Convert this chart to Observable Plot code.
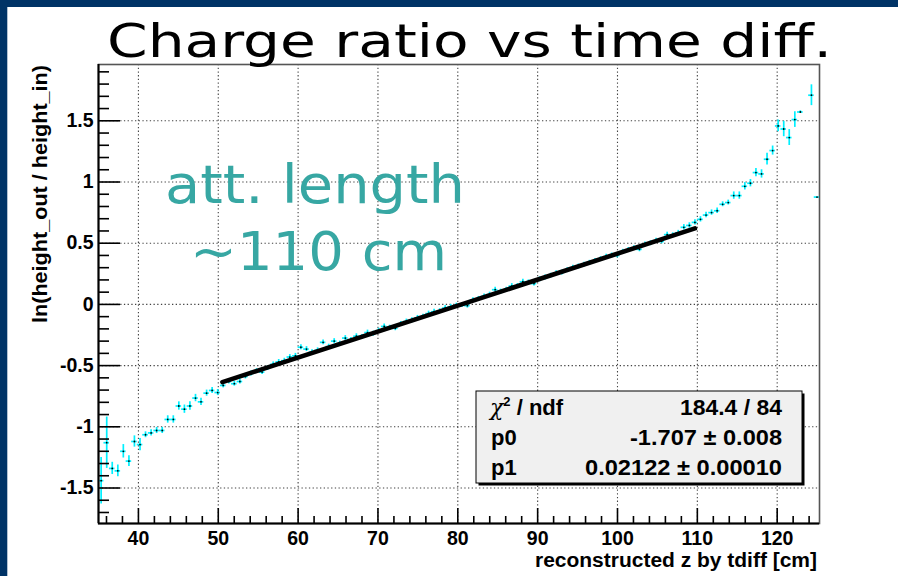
<!DOCTYPE html>
<html><head><meta charset="utf-8">
<script src="https://cdn.jsdelivr.net/npm/d3@7"></script>
<script src="https://cdn.jsdelivr.net/npm/@observablehq/plot@0.6"></script>
<style>
body{margin:0;background:#fff;width:898px;height:576px;overflow:hidden;position:relative;font-family:"Liberation Sans",Arial,sans-serif}
#chart{position:absolute;left:0;top:0}
#overlay{position:absolute;left:0;top:0;pointer-events:none}
</style></head><body>
<div id="chart"></div>
<svg id="overlay" width="898" height="576"></svg>
<script>
// ---- data ----
const binCenters = [35.33,36.03,36.72,37.42,38.11,38.81,39.50,40.20,40.89,41.59,
42.28,42.98,43.67,44.37,45.06,45.76,46.45,47.15,47.84,48.54,
49.23,49.93,50.62,51.32,52.01,52.71,53.40,54.10,54.79,55.49,
56.18,56.88,57.57,58.27,58.96,59.66,60.35,61.05,61.74,62.44,
63.13,63.83,64.52,65.22,65.91,66.61,67.30,68.00,68.69,69.39,
70.08,70.78,71.47,72.17,72.86,73.56,74.25,74.95,75.64,76.34,
77.03,77.73,78.42,79.12,79.81,80.51,81.20,81.90,82.59,83.29,
83.98,84.68,85.37,86.07,86.76,87.46,88.15,88.85,89.54,90.24,
90.93,91.63,92.32,93.02,93.71,94.41,95.10,95.80,96.49,97.19,
97.88,98.58,99.27,99.97,100.66,101.36,102.05,102.75,103.44,104.14,
104.83,105.53,106.22,106.92,107.61,108.31,109.00,109.70,110.39,111.09,
111.78,112.48,113.17,113.87,114.56,115.26,115.95,116.65,117.34,118.04,
118.73,119.43,120.12,120.82,121.51,122.21,122.90,123.60,124.29,124.99];
const ratio = [-1.44,-1.13,-1.34,-1.36,-1.20,-1.28,-1.12,-1.145,-1.065,-1.05,
-1.03,-1.03,-0.94,-0.94,-0.83,-0.856,-0.83,-0.765,-0.796,-0.725,
-0.703,-0.72,-0.662,-0.63,-0.648,-0.63,-0.589,-0.565,-0.545,-0.553,
-0.52,-0.49,-0.47,-0.46,-0.43,-0.42,-0.35,-0.365,-0.39,-0.375,
-0.31,-0.345,-0.30,-0.32,-0.275,-0.29,-0.26,-0.265,-0.23,-0.24,
-0.215,-0.18,-0.19,-0.195,-0.16,-0.14,-0.13,-0.11,-0.10,-0.075,
-0.06,-0.055,-0.03,-0.02,-0.01,-0.005,-0.01,0.035,0.045,0.065,
0.08,0.12,0.105,0.12,0.15,0.15,0.185,0.18,0.17,0.205,
0.22,0.235,0.255,0.26,0.28,0.30,0.31,0.325,0.34,0.355,
0.37,0.39,0.40,0.40,0.43,0.445,0.46,0.45,0.49,0.50,
0.52,0.515,0.57,0.565,0.585,0.63,0.645,0.67,0.695,0.73,
0.75,0.765,0.818,0.832,0.889,0.889,0.965,0.99,1.077,1.066,
1.186,1.257,1.458,1.433,1.363,1.51,1.572,null,1.709,0.877];
const ratioErr = [0.19,0.21,0.05,0.048,0.055,0.044,0.046,0.05,0.024,0.025,
0.025,0.025,0.03,0.03,0.034,0.034,0.034,0.03,0.03,0.025,
0.025,0.025,0.02,0.02,0.02,0.02,0.02,0.02,0.02,0.02,
0.02,0.02,0.02,0.02,0.02,0.02,0.02,0.02,0.02,0.02,
0.02,0.02,0.02,0.02,0.02,0.02,0.02,0.02,0.02,0.02,
0.02,0.02,0.02,0.02,0.02,0.02,0.02,0.02,0.02,0.02,
0.02,0.02,0.02,0.02,0.02,0.02,0.02,0.02,0.02,0.02,
0.02,0.02,0.02,0.02,0.02,0.02,0.02,0.02,0.02,0.02,
0.02,0.02,0.02,0.02,0.02,0.02,0.02,0.02,0.02,0.02,
0.02,0.02,0.02,0.02,0.02,0.02,0.02,0.02,0.02,0.02,
0.02,0.02,0.02,0.02,0.02,0.022,0.022,0.022,0.022,0.022,
0.022,0.022,0.02,0.02,0.03,0.03,0.03,0.03,0.034,0.034,
0.048,0.037,0.048,0.063,0.065,0.064,0.01,null,0.085,0];
const binWidth = 0.695;
const fitRange = [50.52, 109.7];
const p0 = -1.707, p1 = 0.02122;
const xMajor = [40,50,60,70,80,90,100,110,120];
const xMinor = [36,38,42,44,46,48,52,54,56,58,62,64,66,68,72,74,76,78,82,84,86,88,92,94,96,98,102,104,106,108,112,114,116,118,122,124];
const yMajor = [-1.5,-1,-0.5,0,0.5,1,1.5];
const yTickLabels = ["-1.5","-1","-0.5","0","0.5","1","1.5"];
const yMinor = [-1.7,-1.6,-1.4,-1.3,-1.2,-1.1,-0.9,-0.8,-0.7,-0.6,-0.4,-0.3,-0.2,-0.1,0.1,0.2,0.3,0.4,0.6,0.7,0.8,0.9,1.1,1.2,1.3,1.4,1.6,1.7,1.8,1.9];
const titleText = "Charge ratio vs time diff.";
const xLabel = "reconstructed z by tdiff [cm]";
const yLabel = "ln(height_out / height_in)";
const noteLines = ["att. length", "~110 cm"];
const statLabels = ["/ ndf", "p0", "p1"];
const statValues = ["184.4 / 84", "-1.707 \u00b1 0.008", "0.02122 \u00b1 0.00010"];

// ---- build ----
const data = binCenters.map((x, i) => ({x, y: ratio[i], e: ratioErr[i]})).filter(d => d.y != null);
const fitPts = fitRange.map(x => ({x, y: p0 + p1 * x}));
const X0 = 35, X1 = 125.3, Y0 = -1.79, Y1 = 1.96;
const noTxt = () => "";

const plot = Plot.plot({
  width: 898, height: 576,
  marginLeft: 98, marginRight: 79, marginTop: 64, marginBottom: 53,
  style: {fontFamily: "'Liberation Sans', Arial, sans-serif", fontWeight: "bold", fontSize: "19.5px", background: "white", color: "#000", overflow: "visible"},
  x: {domain: [X0, X1]},
  y: {domain: [Y0, Y1]},
  marks: [
    Plot.gridX(xMajor, {stroke: "#222", strokeOpacity: 0.85, strokeDasharray: "1.3,2.4", strokeWidth: 1.1}),
    Plot.gridY(yMajor, {stroke: "#222", strokeOpacity: 0.85, strokeDasharray: "1.3,2.4", strokeWidth: 1.1}),
    Plot.ruleX(data, {x: "x", y1: d => d.y - d.e, y2: d => d.y + d.e, stroke: "#00f0ff", strokeWidth: 1.7, clip: true}),
    Plot.ruleY(data, {y: "y", x1: d => d.x - binWidth / 2, x2: d => d.x + binWidth / 2, stroke: "#00f0ff", strokeWidth: 1.7, clip: true}),
    Plot.dot(data, {x: "x", y: "y", r: 0.9, fill: "#000", stroke: null, clip: true}),
    Plot.line(fitPts, {x: "x", y: "y", stroke: "#000", strokeWidth: 4.6}),
    Plot.frame({stroke: "#555", strokeWidth: 1.6}),
    Plot.ruleX([X0], {stroke: "#000", strokeWidth: 2}),
    Plot.ruleY([Y0], {stroke: "#000", strokeWidth: 2}),
    Plot.axisX(xMajor, {tickSize: 0, tickPadding: 8, tickFormat: d => String(d), label: null}),
    Plot.axisX(xMajor, {tickSize: -15, tickFormat: noTxt, label: null, strokeWidth: 1.6}),
    Plot.axisX(xMinor, {tickSize: -7, tickFormat: noTxt, label: null, strokeWidth: 1.6}),
    Plot.axisY(yMajor, {tickSize: 0, tickPadding: 5, tickFormat: d => yTickLabels[yMajor.indexOf(d)], label: null}),
    Plot.axisY(yMajor, {tickSize: -22, tickFormat: noTxt, label: null, strokeWidth: 1.6}),
    Plot.axisY(yMinor, {tickSize: -11, tickFormat: noTxt, label: null, strokeWidth: 1.6})
  ]
});
document.getElementById("chart").appendChild(plot);

// ---- slide decoration & ROOT-style texts ----
const ov = d3.select("#overlay");
ov.append("rect").attr("x", 0).attr("y", 0).attr("width", 898).attr("height", 7).attr("fill", "#003366");
ov.append("rect").attr("x", 0).attr("y", 0).attr("width", 7.3).attr("height", 576).attr("fill", "#003366");

ov.append("text").text(titleText)
  .attr("x", 107).attr("y", 57)
  .attr("font-family", "'DejaVu Sans', Verdana, sans-serif").attr("font-size", 47)
  .attr("textLength", 725).attr("lengthAdjust", "spacingAndGlyphs").attr("fill", "#000");

ov.append("text").text(yLabel)
  .attr("transform", "translate(47,323) rotate(-90)")
  .attr("font-family", "'Liberation Sans', Arial, sans-serif").attr("font-weight", "bold").attr("font-size", 21)
  .attr("textLength", 258).attr("lengthAdjust", "spacingAndGlyphs");

ov.append("text").text(xLabel)
  .attr("x", 817).attr("y", 567).attr("text-anchor", "end")
  .attr("font-family", "'Liberation Sans', Arial, sans-serif").attr("font-weight", "bold").attr("font-size", 20)
  .attr("textLength", 282).attr("lengthAdjust", "spacingAndGlyphs");

const noteSpec = [{x: 165, y: 203, w: 300}, {x: 190, y: 270, w: 257}];
noteLines.forEach((t, i) => {
  ov.append("text").text(t)
    .attr("x", noteSpec[i].x).attr("y", noteSpec[i].y)
    .attr("font-family", "'DejaVu Sans', Verdana, sans-serif").attr("font-size", 54)
    .attr("fill", "#37a7a3")
    .attr("textLength", noteSpec[i].w).attr("lengthAdjust", "spacingAndGlyphs");
});

// stats box
ov.append("rect").attr("x", 478.5).attr("y", 393.5).attr("width", 326).attr("height", 92).attr("fill", "#000");
ov.append("rect").attr("x", 476).attr("y", 391).attr("width", 326).attr("height", 92)
  .attr("fill", "#f0f0f0").attr("stroke", "#000").attr("stroke-width", 1);
const rowsY = [415, 445, 475];
const valW = [102, 152, 197];
const sf = "'Liberation Sans', Arial, sans-serif";
// chi2 label
const chi = ov.append("text").attr("x", 490).attr("y", rowsY[0]).attr("font-family", sf).attr("font-weight", "bold").attr("font-size", 22);
chi.append("tspan").text("\u03c7").attr("font-family", "'DejaVu Serif', serif").attr("font-style", "italic").attr("font-weight", "normal");
chi.append("tspan").text("2").attr("font-size", 13).attr("dy", -9);
chi.append("tspan").text(" " + statLabels[0]).attr("dy", 9);
[1, 2].forEach(i => {
  ov.append("text").text(statLabels[i]).attr("x", 491).attr("y", rowsY[i])
    .attr("font-family", sf).attr("font-weight", "bold").attr("font-size", 22);
});
statValues.forEach((v, i) => {
  ov.append("text").text(v).attr("x", 782).attr("y", rowsY[i]).attr("text-anchor", "end")
    .attr("font-family", sf).attr("font-weight", "bold").attr("font-size", 22)
    .attr("textLength", valW[i]).attr("lengthAdjust", "spacingAndGlyphs");
});
</script>
</body></html>
